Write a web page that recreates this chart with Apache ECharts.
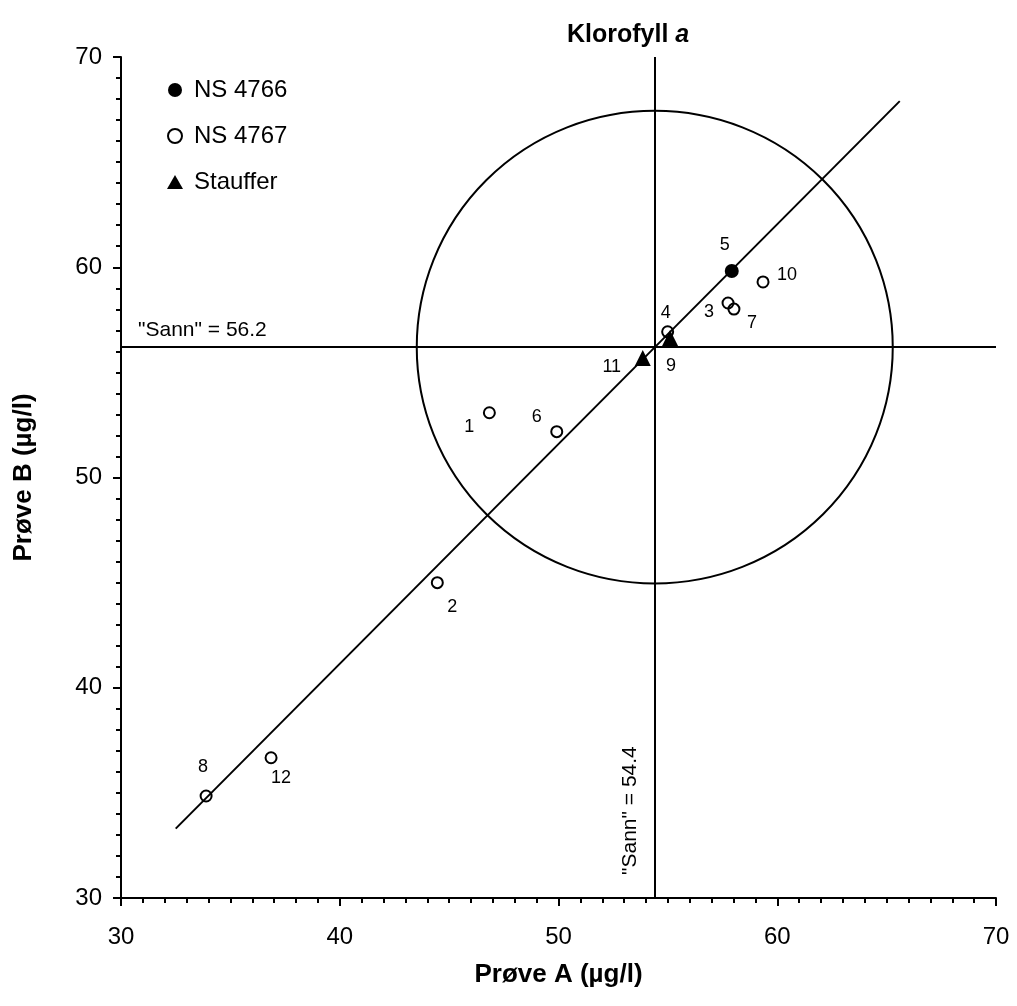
<!DOCTYPE html>
<html>
<head>
<meta charset="utf-8">
<script src="https://cdn.jsdelivr.net/npm/echarts@6/dist/echarts.min.js"></script>
<style>
  html, body { margin: 0; padding: 0; background: #fff; }
  #chart { width: 1017px; height: 1006px; }
</style>
</head>
<body>
<div id="chart"></div>
<script>
// laboratory results, sample A vs sample B (µg/l)
let ptId = ['1', '2', '3', '4', '5', '6', '7', '8', '9', '10', '11', '12'];
let proveA = [46.84, 44.46, 57.75, 54.99, 57.92, 49.92, 58.02, 33.89, 55.10, 59.35, 53.85, 36.86];
let proveB = [53.08, 45.00, 58.30, 56.93, 59.82, 52.18, 58.01, 34.85, 56.64, 59.30, 55.68, 36.67];
let ptMethod = ['NS 4767', 'NS 4767', 'NS 4767', 'NS 4767', 'NS 4766', 'NS 4767',
  'NS 4767', 'NS 4767', 'Stauffer', 'NS 4767', 'Stauffer', 'NS 4767'];
let methods = ['NS 4766', 'NS 4767', 'Stauffer'];

// "true" values and 20 % circle
let sannA = 54.4, sannB = 56.2;
let circleRadius = [10.88, 11.24];

// reference line end points
let fitA = [32.5, 65.6];
let fitB = [33.3, 67.9];

let font = 'Liberation Sans, Arial, sans-serif';

// where each number label sits next to its symbol
let labelOffset = {
  '1': [-20, 14], '2': [15, 24], '3': [-19, 9], '4': [-2, -19],
  '5': [-7, -26], '6': [-20, -15], '7': [18, 14], '8': [-3, -29],
  '9': [1, 28], '10': [24, -7], '11': [-31, 9], '12': [10, 20]
};

let symbolStyle = {
  'NS 4766': { symbol: 'circle', symbolSize: 14, itemStyle: { color: '#000', opacity: 1 } },
  'NS 4767': { symbol: 'circle', symbolSize: 11,
    itemStyle: { color: 'rgba(0,0,0,0)', borderColor: '#000', borderWidth: 2, opacity: 1 } },
  'Stauffer': { symbol: 'triangle', symbolSize: 16, itemStyle: { color: '#000', opacity: 1 } }
};

function pointsFor(method) {
  let out = [];
  for (let i = 0; i < ptId.length; i++) {
    if (ptMethod[i] != method) continue;
    out.push({
      value: [proveA[i], proveB[i], ptId[i]],
      label: { offset: labelOffset[ptId[i]] }
    });
  }
  return out;
}

let chart = echarts.init(document.getElementById('chart'), null, { renderer: 'canvas' });

let scatterSeries = methods.map(function(m) {
  return {
    type: 'scatter',
    name: m,
    symbol: symbolStyle[m].symbol,
    symbolSize: symbolStyle[m].symbolSize,
    itemStyle: symbolStyle[m].itemStyle,
    z: 5,
    data: pointsFor(m),
    label: {
      show: true,
      position: 'inside',
      color: '#000',
      fontFamily: font,
      fontSize: 18,
      formatter: function(p) { return p.value[2]; }
    },
    emphasis: { disabled: true }
  };
});

let axisCommon = {
  min: 30,
  max: 70,
  interval: 10,
  axisLine: { onZero: false, lineStyle: { color: '#000', width: 2 } },
  axisTick: { inside: false, length: 8, lineStyle: { color: '#000', width: 2 } },
  minorTick: { show: true, splitNumber: 10, length: 5, lineStyle: { color: '#000', width: 2 } },
  splitLine: { show: false },
  axisLabel: { color: '#000', fontFamily: font, fontSize: 24 },
  nameLocation: 'middle',
  nameTextStyle: { color: '#000', fontFamily: font, fontSize: 26, fontWeight: 'bold' }
};

let option = {
  animation: false,
  backgroundColor: '#fff',
  title: {
    text: '{b|Klorofyll }{i|a}',
    left: 562,
    top: 18,
    textStyle: {
      rich: {
        b: { fontFamily: font, fontSize: 25, fontWeight: 'bold', color: '#000' },
        i: { fontFamily: font, fontSize: 25, fontWeight: 'bold', fontStyle: 'italic', color: '#000' }
      }
    }
  },
  legend: {
    orient: 'vertical',
    left: 167,
    top: 78,
    padding: 0,
    itemWidth: 16,
    itemHeight: 14,
    itemGap: 22,
    data: methods,
    textStyle: { color: '#000', fontFamily: font, fontSize: 24, lineHeight: 24, padding: [0, 0, 0, 6] }
  },
  grid: { left: 121, right: 21, top: 57, bottom: 108 },
  xAxis: Object.assign({}, axisCommon, {
    type: 'value',
    name: 'Prøve A (µg/l)',
    nameGap: 64,
    axisLabel: Object.assign({}, axisCommon.axisLabel, { margin: 27 })
  }),
  yAxis: Object.assign({}, axisCommon, {
    type: 'value',
    name: 'Prøve B (µg/l)',
    nameGap: 84,
    axisLabel: Object.assign({}, axisCommon.axisLabel, { margin: 19 })
  }),
  series: [{
      type: 'custom',
      name: 'sirkel',
      silent: true,
      data: [[sannA, sannB, circleRadius[0], circleRadius[1]]],
      encode: { x: 0, y: 1 },
      renderItem: function(params, api) {
        let c = api.coord([api.value(0), api.value(1)]);
        let s = api.size([api.value(2), api.value(3)]);
        return {
          type: 'circle',
          x: c[0],
          y: c[1],
          scaleY: s[1] / s[0],
          shape: { cx: 0, cy: 0, r: s[0] },
          style: { fill: 'none', stroke: '#000', lineWidth: 2 }
        };
      }
    },
    {
      type: 'line',
      name: 'linje',
      silent: true,
      symbol: 'none',
      lineStyle: { color: '#000', width: 2 },
      data: [[fitA[0], fitB[0]], [fitA[1], fitB[1]]],
      markLine: {
        silent: true,
        symbol: 'none',
        animation: false,
        lineStyle: { color: '#000', width: 2, type: 'solid' },
        label: { color: '#000', fontFamily: font, fontSize: 21 },
        data: [{
            yAxis: sannB,
            label: {
              position: 'insideStartTop',
              distance: [17, 6],
              formatter: '"Sann" = ' + sannB
            }
          },
          {
            xAxis: sannA,
            label: {
              position: 'insideStartTop',
              distance: [23, 14],
              formatter: '"Sann" = ' + sannA
            }
          }
        ]
      }
    }
  ].concat(scatterSeries)
};

chart.setOption(option);
</script>
</body>
</html>
